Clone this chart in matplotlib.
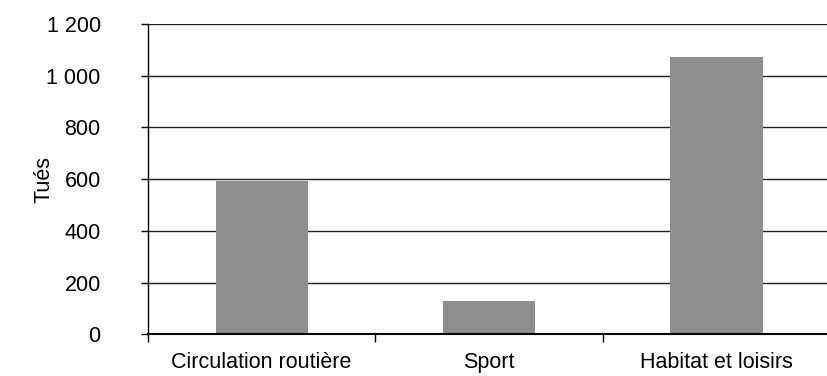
import matplotlib.pyplot as plt
from matplotlib.ticker import FuncFormatter, FixedLocator

categories = ['Circulation routière', 'Sport', 'Habitat et loisirs']
tues = [593, 129, 1072]
y_ticks = [0, 200, 400, 600, 800, 1000, 1200]

plt.rcParams['font.family'] = ['Liberation Sans', 'DejaVu Sans']

fig = plt.figure(figsize=(8.28, 3.76), dpi=100)
ax = fig.add_axes([0.1787, 0.111, 0.824, 0.825])

x = range(len(categories))
ax.bar(x, tues, width=0.405, color='#8e8e8e', zorder=2)

ax.set_xlim(-0.5, len(categories) - 0.5)
ax.set_ylim(0, 1200)
ax.set_yticks(y_ticks)
ax.yaxis.set_major_formatter(FuncFormatter(lambda v, p: f'{int(v):,}'.replace(',', ' ')))
ax.grid(axis='y', color='#222222', linewidth=1.0, zorder=1)

ax.set_xticks(list(x))
ax.set_xticklabels(categories)
ax.xaxis.set_minor_locator(FixedLocator([-0.5, 0.5, 1.5]))
ax.tick_params(axis='x', which='major', length=0, pad=13, labelsize=15.5)
ax.tick_params(axis='x', which='minor', length=6, width=1, direction='out')
ax.tick_params(axis='y', length=5, width=1, direction='out', pad=29, labelsize=15.5)

for side in ['top', 'right']:
    ax.spines[side].set_visible(False)
ax.spines['left'].set_linewidth(1.0)
ax.spines['bottom'].set_linewidth(1.5)
ax.spines['bottom'].set_zorder(3)

ax.set_ylabel('Tués', fontsize=15.5)
ax.yaxis.set_label_coords(-0.137, 0.5)

fig.savefig('out.png', dpi=100)
